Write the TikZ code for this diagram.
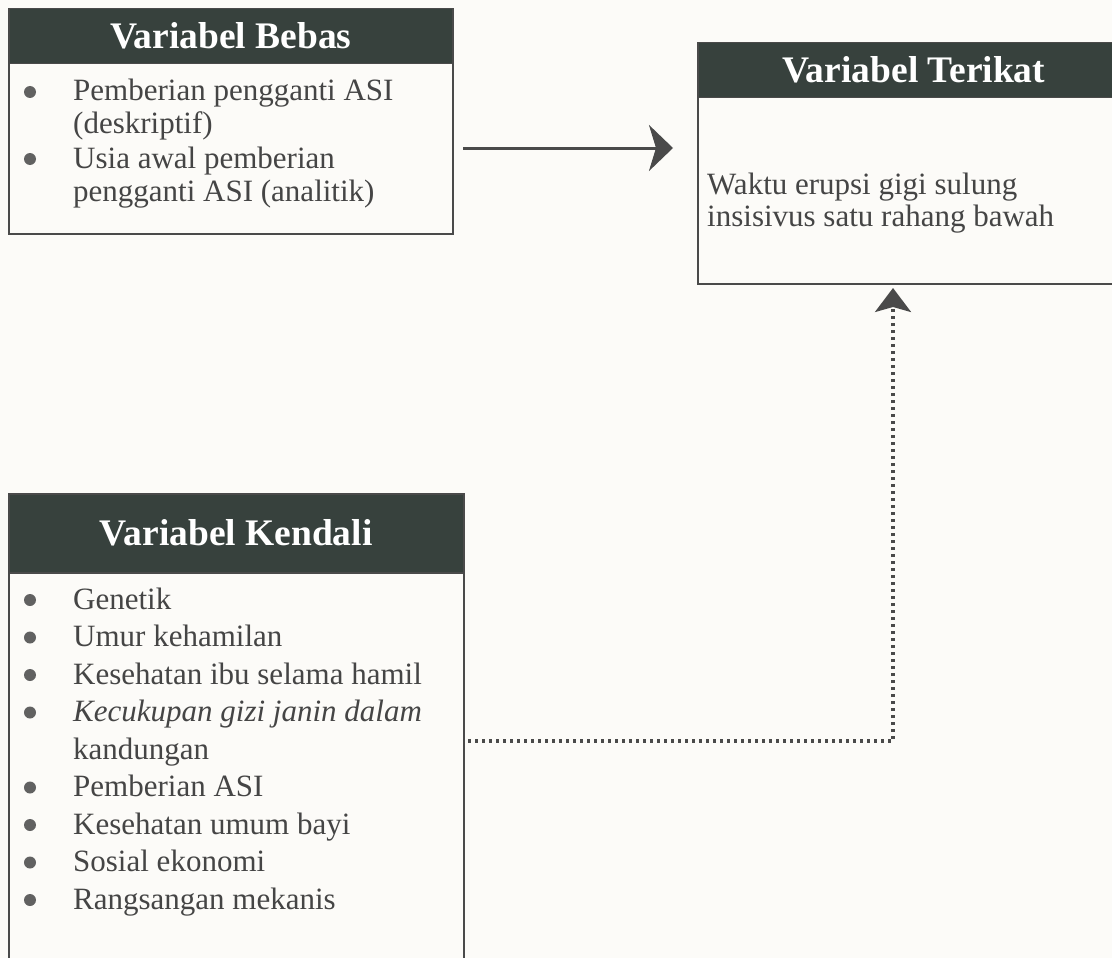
\documentclass[tikz,border=0pt]{standalone}
\usepackage{fontspec}
\setmainfont{Liberation Serif}
\usetikzlibrary{arrows.meta}
\definecolor{hdrfill}{HTML}{37413D}
\definecolor{inkgray}{HTML}{454545}
\definecolor{linegray}{HTML}{4A4A4A}
\definecolor{paper}{HTML}{FCFBF8}
\tikzset{
  hdr/.style={draw=linegray, line width=1.5pt, fill=hdrfill, text=white, inner sep=0pt,
    font=\fontsize{37.5}{42}\selectfont\bfseries, anchor=north west},
  bodybox/.style={draw=linegray, line width=1.8pt, fill=none, inner sep=0pt, anchor=north west},
  itemtext/.style={anchor=base west, inner sep=0pt, text=inkgray, font=\fontsize{31}{37}\selectfont},
  bul/.style={circle, fill=inkgray!85, inner sep=0pt, minimum size=12pt},
  arr/.style={draw=linegray, line width=3pt, -{Stealth[length=24pt, width=46pt, inset=7pt]}},
  dotarr/.style={draw=linegray, line width=3.2pt, dash pattern=on 3pt off 4pt,
    -{Stealth[length=24pt, width=36pt, inset=5pt, fill=linegray]}}
}
\begin{document}
\begin{tikzpicture}[x=1pt,y=-1pt]
\useasboundingbox (0,0) rectangle (1112,958);
\clip (0,0) rectangle (1112,958);
\fill[paper] (0,0) rectangle (1112,958);

% Variabel Bebas
\node[bodybox, minimum width=444pt, minimum height=178pt] (bb) at (8,55) {};
\node[hdr, minimum width=444pt, minimum height=55pt] (bh) at (8,8) {Variabel Bebas};
\node[bul] (b1) at (30,92) {};
\node[itemtext] (t1a) at (73,101) {Pemberian pengganti ASI};
\node[itemtext] (t1b) at (73,133) {(deskriptif)};
\node[bul] (b2) at (30,159) {};
\node[itemtext] (t2a) at (73,168) {Usia awal pemberian};
\node[itemtext] (t2b) at (73,201) {pengganti ASI (analitik)};

% Variabel Terikat
\node[bodybox, minimum width=432pt, minimum height=196pt] (tb) at (697,87) {};
\node[hdr, minimum width=432pt, minimum height=55pt] (th) at (697,42) {Variabel Terikat};
\node[itemtext] (w1) at (707,194) {Waktu erupsi gigi sulung};
\node[itemtext] (w2) at (707,226) {insisivus satu rahang bawah};

% Variabel Kendali
\node[bodybox, minimum width=455pt, minimum height=420pt] (kb) at (8,565) {};
\node[hdr, minimum width=455pt, minimum height=79pt] (kh) at (8,493) {Variabel Kendali};
\foreach \n/\y/\t in {1/609/Genetik, 2/646.5/Umur kehamilan, 3/684/Kesehatan ibu selama hamil,
  4/721.5/{\itshape Kecukupan gizi janin dalam}, 6/796.5/Pemberian ASI,
  7/834/Kesehatan umum bayi, 8/871.5/Sosial ekonomi, 9/909/Rangsangan mekanis}{
  \node[bul] (kbul\n) at (30,\y-9) {};
  \node[itemtext] (kt\n) at (73,\y) {\t};
}
\node[itemtext] (kt5) at (73,759) {kandungan};

% connectors
\coordinate (a1s) at (463,148);
\coordinate (a1e) at (673,148);
\draw[arr] (a1s) -- (a1e);

\coordinate (d1s) at (468,741);
\coordinate (d1c) at (893,741);
\coordinate (d1e) at (893,288);
\draw[dotarr] (d1s) -- (d1c) -- (d1e);
\end{tikzpicture}
\end{document}
